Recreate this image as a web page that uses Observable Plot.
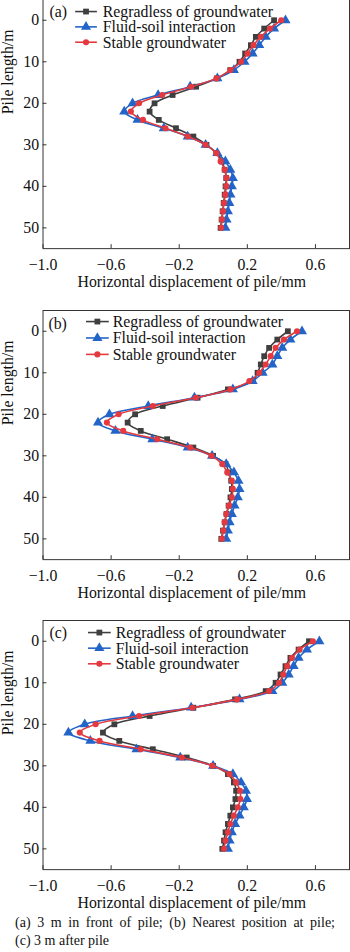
<!DOCTYPE html>
<html>
<head>
<meta charset="utf-8">
<script src="https://cdn.jsdelivr.net/npm/d3@7"></script>
<script src="https://cdn.jsdelivr.net/npm/@observablehq/plot@0.6"></script>
<style>
  html, body { margin: 0; padding: 0; background: #fff; }
  body { position: relative; width: 350px; height: 952px; overflow: hidden; font-family: "Liberation Serif", "Times New Roman", serif; }
  .panel { position: absolute; left: 0; width: 350px; height: 310px; overflow: hidden; }
  .panel svg { display: block; }
  .caption { position: absolute; left: 15px; top: 914px; width: 320px; font-size: 14px; line-height: 18.4px; color: #111; }
  .caption .l1 { text-align: justify; text-align-last: justify; white-space: nowrap; word-spacing: 0; }
</style>
</head>
<body>
<div id="pa" class="panel" style="top:-1px"></div>
<div id="pb" class="panel" style="top:310px"></div>
<div id="pc" class="panel" style="top:620px"></div>
<div class="caption">
  <div class="l1" id="cap1"></div>
  <div id="cap2"></div>
</div>
<script>
// ---------- data ----------
const depth = [0, 2, 4, 6, 8, 10, 12, 14, 16, 18, 20, 22, 24, 26, 28, 30, 32, 34, 36, 38, 40, 42, 44, 46, 48, 50];

const seriesNames = ["Regradless of groundwater", "Fluid-soil interaction", "Stable groundwater"];
const seriesColors = ["#3f3f3f", "#2264c8", "#e3393f"];
const seriesSymbols = ["square", "triangle", "circle"];

const panelLabels = ["(a)", "(b)", "(c)"];
const xTicks = [-1.0, -0.6, -0.2, 0.2, 0.6];
const yTicks = [0, 10, 20, 30, 40, 50];
const xLabel = "Horizontal displacement of pile/mm";
const yLabel = "Pile length/m";
const captionLines = ["(a) 3 m in front of pile; (b) Nearest position at pile;", "(c) 3 m after pile"];

// (a) 3 m in front of pile
const a_regardless = [0.357, 0.299, 0.250, 0.221, 0.187, 0.154, 0.100, 0.022, -0.101, -0.239, -0.345, -0.374, -0.320, -0.219, -0.117, -0.040, 0.018, 0.051, 0.067, 0.076, 0.072, 0.067, 0.061, 0.055, 0.049, 0.043];
const a_fluidSoil  = [0.424, 0.357, 0.308, 0.270, 0.231, 0.183, 0.121, 0.024, -0.136, -0.324, -0.474, -0.523, -0.445, -0.291, -0.150, -0.045, 0.024, 0.071, 0.100, 0.115, 0.109, 0.101, 0.094, 0.086, 0.078, 0.071];
const a_stable     = [0.399, 0.333, 0.279, 0.236, 0.201, 0.163, 0.100, 0.018, -0.130, -0.300, -0.436, -0.484, -0.413, -0.281, -0.150, -0.045, 0.018, 0.043, 0.067, 0.078, 0.076, 0.071, 0.063, 0.057, 0.051, 0.047];

// (b) Nearest position at pile
const b_regardless = [0.438, 0.376, 0.328, 0.299, 0.279, 0.260, 0.231, 0.086, -0.092, -0.297, -0.459, -0.503, -0.426, -0.271, -0.117, -0.001, 0.072, 0.090, 0.105, 0.109, 0.101, 0.090, 0.078, 0.067, 0.057, 0.047];
const b_fluidSoil  = [0.521, 0.453, 0.405, 0.376, 0.347, 0.290, 0.231, 0.115, -0.111, -0.382, -0.610, -0.677, -0.575, -0.358, -0.150, -0.007, 0.076, 0.121, 0.148, 0.154, 0.144, 0.125, 0.109, 0.096, 0.086, 0.076];
const b_stable     = [0.492, 0.415, 0.366, 0.337, 0.308, 0.270, 0.212, 0.101, -0.103, -0.355, -0.556, -0.625, -0.529, -0.329, -0.136, -0.011, 0.053, 0.082, 0.109, 0.115, 0.109, 0.092, 0.076, 0.067, 0.059, 0.051];

// (c) 3 m after pile
const c_regardless = [0.562, 0.501, 0.453, 0.424, 0.395, 0.366, 0.308, 0.128, -0.117, -0.374, -0.581, -0.648, -0.552, -0.355, -0.156, -0.001, 0.086, 0.121, 0.134, 0.130, 0.115, 0.100, 0.086, 0.072, 0.063, 0.053];
const c_fluidSoil  = [0.623, 0.550, 0.501, 0.472, 0.443, 0.405, 0.347, 0.154, -0.130, -0.474, -0.755, -0.851, -0.722, -0.451, -0.194, -0.001, 0.115, 0.163, 0.192, 0.198, 0.179, 0.154, 0.128, 0.109, 0.096, 0.086];
const c_stable     = [0.585, 0.507, 0.462, 0.434, 0.411, 0.386, 0.328, 0.140, -0.122, -0.436, -0.691, -0.784, -0.668, -0.426, -0.185, -0.005, 0.095, 0.134, 0.157, 0.159, 0.144, 0.121, 0.100, 0.086, 0.072, 0.063];

const panelSeries = [
  [a_regardless, a_fluidSoil, a_stable],
  [b_regardless, b_fluidSoil, b_stable],
  [c_regardless, c_fluidSoil, c_stable]
];

document.getElementById("cap1").textContent = captionLines[0];
document.getElementById("cap2").textContent = captionLines[1];

// ---------- layout (styles only) ----------
const containers = ["#pa", "#pb", "#pc"];
const legendLayout = [
  {x0: 76, x1: 98, tx: 104, y0: 12.7, dy: 15.5, lx: 50, ly: 12.7},
  {x0: 87, x1: 110, tx: 114, y0: 11.7, dy: 16.6, lx: 49, ly: 13.3},
  {x0: 89, x1: 112, tx: 117, y0: 12.7, dy: 15.8, lx: 50, ly: 13.0}
];
const symbolRadius = {square: 3.3, triangle: 3.8, circle: 3.1};

panelSeries.forEach((series, p) => {
  const rows = [];
  series.forEach((vals, s) => {
    vals.forEach((v, i) => rows.push({series: seriesNames[s], depth: depth[i], value: v}));
  });

  const seriesMarks = [];
  seriesNames.forEach((name, s) => {
    const sub = rows.filter(d => d.series === name);
    seriesMarks.push(Plot.line(sub, {x: "value", y: "depth", stroke: "series", strokeWidth: 1.6, curve: "catmull-rom"}));
    seriesMarks.push(Plot.dot(sub, {x: "value", y: "depth", fill: "series", symbol: "series", stroke: "none", r: symbolRadius[seriesSymbols[s]]}));
  });

  const chart = Plot.plot({
    width: 354,
    height: 310,
    marginLeft: 43,
    marginRight: 1,
    marginTop: 0,
    marginBottom: 58,
    style: {fontFamily: "'Liberation Serif', 'Times New Roman', serif", fontSize: "16px", color: "#111", background: "transparent"},
    x: {domain: [-1.0, 0.8]},
    y: {domain: [-5, 55], reverse: true},
    color: {domain: seriesNames, range: seriesColors},
    symbol: {domain: seriesNames, range: seriesSymbols},
    marks: [
      Plot.frame({stroke: "#333", strokeWidth: 1}),
      Plot.axisX({ticks: xTicks, tickSize: -4, tickPadding: 14, tickFormat: d3.format(".1f"), label: null, stroke: "#333"}),
      Plot.axisY({ticks: yTicks, tickSize: -4, tickPadding: 8, label: null, stroke: "#333"}),
      Plot.text([xLabel], {frameAnchor: "bottom", dy: 34, dx: -4.5, lineAnchor: "middle", fill: "#111"}),
      Plot.text([yLabel], {frameAnchor: "left", dx: -35.5, dy: -10, rotate: -90, fill: "#111"}),
      ...seriesMarks
    ]
  });

  // legend and panel label drawn into the chart's svg, from the series arrays
  const L = legendLayout[p];
  const svg = d3.select(chart);
  const g = svg.append("g")
    .attr("font-family", "'Liberation Serif', 'Times New Roman', serif")
    .attr("font-size", 16)
    .attr("text-anchor", "start");
  g.append("text").attr("x", L.lx).attr("y", L.ly).attr("dominant-baseline", "central").attr("text-anchor", "start").attr("fill", "#111").text(panelLabels[p]);
  seriesNames.forEach((name, s) => {
    const y = L.y0 + s * L.dy;
    g.append("line").attr("x1", L.x0).attr("x2", L.x1).attr("y1", y).attr("y2", y)
      .attr("stroke", seriesColors[s]).attr("stroke-width", 1.6);
    const r = symbolRadius[seriesSymbols[s]];
    const sym = {square: d3.symbolSquare, triangle: d3.symbolTriangle, circle: d3.symbolCircle}[seriesSymbols[s]];
    g.append("path").attr("transform", `translate(${(L.x0 + L.x1) / 2},${y})`)
      .attr("d", d3.symbol(sym, Math.PI * r * r)()).attr("fill", seriesColors[s]);
    g.append("text").attr("x", L.tx).attr("y", y).attr("dominant-baseline", "central").attr("text-anchor", "start").attr("fill", "#111").text(name);
  });

  document.querySelector(containers[p]).appendChild(chart);
});
</script>
</body>
</html>
